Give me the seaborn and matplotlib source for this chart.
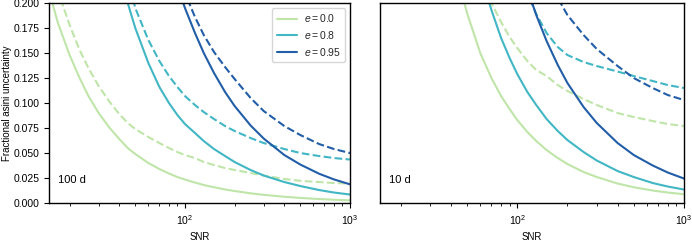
import matplotlib
matplotlib.use("Agg")
import matplotlib.pyplot as plt
from matplotlib.lines import Line2D
from matplotlib.ticker import FixedLocator, FormatStrFormatter
import numpy as np
import pandas as pd
import seaborn as sns

sns.set_style("ticks")
plt.rcParams["font.family"] = ["Liberation Sans", "DejaVu Sans"]
plt.rcParams["mathtext.fontset"] = "custom"
plt.rcParams["mathtext.it"] = "Liberation Sans:italic"
plt.rcParams["mathtext.rm"] = "Liberation Sans"

nan = np.nan
eccs = ["0.0", "0.8", "0.95"]
colors = ["#bfe5a8", "#41b6c4", "#225ea8"]

# SNR grid shared by all curves
snr = [15, 17, 20, 23, 26, 30, 35, 40, 45, 50, 60, 70, 80, 90, 100, 115, 130,
       150, 175, 200, 250, 300, 400, 500, 650, 800, 1000]

# 100 d orbit
p100_solid_e00 = [0.212, 0.180, 0.148, 0.125, 0.107, 0.090, 0.075, 0.064, 0.055, 0.049, 0.040,
                  0.034, 0.0295, 0.026, 0.0235, 0.0205, 0.018, 0.0158, 0.0136, 0.012, 0.0097,
                  0.0082, 0.0063, 0.0051, 0.0040, 0.0033, 0.0027]
p100_solid_e08 = [nan, nan, nan, nan, nan, 0.34, 0.29, 0.25, 0.200, 0.175, 0.140, 0.116, 0.100,
                  0.088, 0.079, 0.070, 0.062, 0.054, 0.047, 0.041, 0.033, 0.0275, 0.021,
                  0.017, 0.013, 0.0105, 0.0085]
p100_solid_e095 = [nan, nan, nan, nan, nan, nan, nan, nan, nan, nan, nan, 0.29, 0.245, 0.217,
                   0.195, 0.170, 0.150, 0.130, 0.111, 0.097, 0.0775, 0.0645, 0.048, 0.0385,
                   0.0293, 0.0236, 0.0187]
p100_dash_e00 = [0.25, 0.212, 0.178, 0.153, 0.135, 0.117, 0.101, 0.089, 0.080, 0.074, 0.066,
                 0.060, 0.055, 0.051, 0.048, 0.045, 0.041, 0.038, 0.035, 0.033, 0.030, 0.0275,
                 0.024, 0.0222, 0.021, 0.020, 0.0195]
p100_dash_e08 = [nan, nan, nan, nan, nan, nan, nan, 0.26, 0.225, 0.195, 0.163, 0.142, 0.127,
                 0.116, 0.107, 0.098, 0.091, 0.084, 0.077, 0.072, 0.065, 0.060, 0.054, 0.050,
                 0.047, 0.045, 0.0435]
p100_dash_e095 = [nan, nan, nan, nan, nan, nan, nan, nan, nan, nan, nan, nan, 0.27, 0.235,
                  0.21, 0.186, 0.168, 0.151, 0.136, 0.124, 0.105, 0.092, 0.077, 0.068, 0.059,
                  0.054, 0.050]

# 10 d orbit
p10_solid_e00 = [nan, nan, nan, nan, nan, nan, 0.29, 0.25, 0.218, 0.190, 0.150, 0.125, 0.107,
                 0.094, 0.083, 0.071, 0.062, 0.053, 0.045, 0.039, 0.031, 0.026, 0.0195,
                 0.0158, 0.0125, 0.0105, 0.0088]
p10_solid_e08 = [nan, nan, nan, nan, nan, nan, nan, nan, nan, 0.28, 0.230, 0.193, 0.165, 0.145,
                 0.129, 0.111, 0.098, 0.084, 0.072, 0.063, 0.051, 0.0425, 0.032, 0.026,
                 0.020, 0.0165, 0.0135]
p10_solid_e095 = [nan, nan, nan, nan, nan, nan, nan, nan, nan, nan, nan, nan, nan, 0.28, 0.246,
                  0.214, 0.188, 0.162, 0.138, 0.120, 0.096, 0.080, 0.060, 0.048, 0.0375,
                  0.0305, 0.0245]
p10_dash_e00 = [nan, nan, nan, nan, nan, nan, nan, nan, nan, 0.27, 0.23, 0.200, 0.181, 0.166,
                0.155, 0.142, 0.133, 0.127, 0.118, 0.112, 0.104, 0.098, 0.090, 0.086, 0.082,
                0.079, 0.077]
p10_dash_e08 = [nan, nan, nan, nan, nan, nan, nan, nan, nan, nan, nan, nan, nan, 0.28, 0.25,
                0.210, 0.189, 0.170, 0.156, 0.148, 0.141, 0.137, 0.1315, 0.127, 0.122, 0.118,
                0.115]
p10_dash_e095 = [nan, nan, nan, nan, nan, nan, nan, nan, nan, nan, nan, nan, nan, nan, nan,
                 nan, 0.28, 0.235, 0.205, 0.188, 0.168, 0.154, 0.137, 0.125, 0.115, 0.108,
                 0.103]

panels = {
    "100 d": {"solid": [p100_solid_e00, p100_solid_e08, p100_solid_e095],
              "dashed": [p100_dash_e00, p100_dash_e08, p100_dash_e095]},
    "10 d": {"solid": [p10_solid_e00, p10_solid_e08, p10_solid_e095],
             "dashed": [p10_dash_e00, p10_dash_e08, p10_dash_e095]},
}

rows = []
for period, kinds in panels.items():
    for kind, curves in kinds.items():
        for e, vals in zip(eccs, curves):
            for s, v in zip(snr, vals):
                rows.append({"period": period, "kind": kind, "e": e, "snr": s, "frac": v})
df = pd.DataFrame(rows)

fig = plt.figure(figsize=(6.92, 2.42), dpi=100)
ax1 = fig.add_axes([0.0708, 0.161, 0.435, 0.8264])
ax2 = fig.add_axes([0.549, 0.161, 0.4394, 0.8264])

for ax, period in zip([ax1, ax2], panels):
    sub = df[df["period"] == period]
    sns.lineplot(data=sub, x="snr", y="frac", hue="e", style="kind",
                 hue_order=eccs, palette=colors, style_order=["solid", "dashed"],
                 dashes={"solid": "", "dashed": (3.7, 1.6)}, linewidth=1.5,
                 ax=ax, legend=False, estimator=None)
    ax.set_xscale("log")
    ax.set_xlim(15, 1000)
    ax.set_ylim(0, 0.2)
    ax.set_xlabel("SNR", fontsize=7, color="black")
    ax.tick_params(labelsize=7.5, length=3.5, width=0.8, colors="black")
    ax.tick_params(which="minor", length=2, width=0.6, colors="black")
    ax.text(0.03, 0.1, period, transform=ax.transAxes, fontsize=8, color="black")
    for sp in ax.spines.values():
        sp.set_linewidth(1.0)
        sp.set_color("black")

ax1.yaxis.set_major_locator(FixedLocator(np.arange(0, 0.201, 0.025)))
ax1.yaxis.set_major_formatter(FormatStrFormatter("%.3f"))
ax1.tick_params(axis="y", left=True, labelleft=True)
ax1.set_ylabel("Fractional asini uncertainty", fontsize=7, color="black")
ax1.yaxis.set_label_coords(-0.122, 0.5)
ax2.set_ylabel("")
ax2.tick_params(axis="y", left=False, labelleft=False)

handles = [Line2D([], [], color=c, lw=1.5) for c in colors]
ax1.legend(handles, [f"$e = {e}$" for e in eccs], loc="upper right", fontsize=7.5,
           handlelength=2.0, borderpad=0.4, handletextpad=0.6, labelspacing=0.45)

fig.savefig("out.png", dpi=100)
